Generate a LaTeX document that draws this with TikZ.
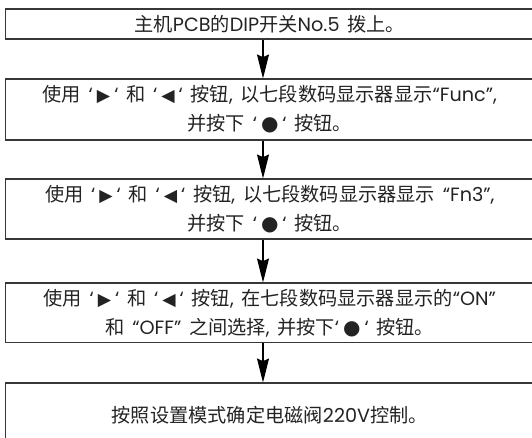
\documentclass[tikz,border=0pt]{standalone}
\usepackage{fontspec}
\setmainfont[WordSpace=1.8]{Noto Sans CJK SC}
\newfontfamily\latf{Poppins}
\newfontfamily\symf{DejaVu Sans}
\usetikzlibrary{arrows.meta, positioning}
\definecolor{boxline}{RGB}{55,55,55}
\definecolor{txtdark}{RGB}{35,35,35}
\newcommand{\lt}[1]{{\latf #1}}
\newcommand{\keysym}[2]{\lt{‘}\hspace{3pt}{\symf\fontsize{#1}{21.75}\selectfont #2}\hspace{3pt}\lt{‘}}
\newcommand{\keyright}{\keysym{13}{▶}}
\newcommand{\keyleft}{\keysym{13}{◀}}
\newcommand{\keyset}{\keysym{15}{●}}
\tikzset{
  stepbox/.style={rectangle, draw=boxline, line width=0.8pt,
    minimum width=396.4pt, align=center, inner sep=0pt,
    font=\fontsize{14.4}{21.75}\selectfont, text=txtdark},
  arrow/.style={-{Stealth[length=18pt, width=9pt, inset=2pt]},
    line width=0.8pt, color=black}
}

\begin{document}
\begin{tikzpicture}[x=0.75pt, y=-0.75pt]
  \useasboundingbox (0,0) rectangle (532,437);
  \clip (0,0) rectangle (532,437);

  \node[stepbox, minimum height=22.5pt] (s1) at (269.75,24)
    {主机\lt{PCB}的\lt{DIP}开关\lt{No.5} 拨上。};
  \node[stepbox, minimum height=45.75pt] (s2) at (269.75,109.5)
    {使用 \keyright\ 和 \keyleft\ 按钮\lt{,} 以七段数码显示器显示\lt{“Func”,}\\并按下 \keyset\ 按钮。};
  \node[stepbox, minimum height=45pt] (s3) at (269.75,209)
    {使用 \keyright\ 和 \keyleft\ 按钮\lt{,} 以七段数码显示器显示 \lt{“Fn3”,}\\并按下 \keyset\ 按钮。};
  \node[stepbox, minimum height=44.8pt] (s4) at (269.75,312.85)
    {使用 \keyright\ 和 \keyleft\ 按钮\lt{,} 在七段数码显示器显示的\lt{“ON”}\\和 \lt{“OFF”} 之间选择\lt{,} 并按下\keyset\ 按钮。};
  \node[stepbox, minimum height=48pt] (s5) at (269.75,415)
    {按照设置模式确定电磁阀\lt{220V}控制。};

  % arrows sit a little left of the box centres
  \coordinate (axis) at (263,0);
  \draw[arrow] (s1.south -| axis) -- (s2.north -| axis);
  \draw[arrow] (s2.south -| axis) -- (s3.north -| axis);
  \draw[arrow] (s3.south -| axis) -- (s4.north -| axis);
  \draw[arrow] (s4.south -| axis) -- (s5.north -| axis);
\end{tikzpicture}
\end{document}
